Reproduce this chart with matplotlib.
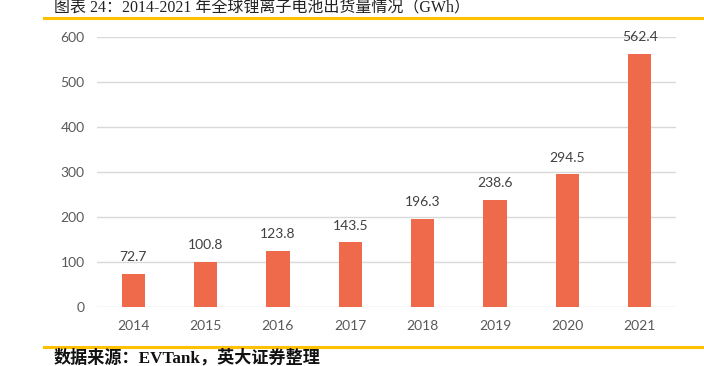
import matplotlib
matplotlib.use('Agg')
import numpy as np
import matplotlib.pyplot as plt
from matplotlib.lines import Line2D

years = ['2014', '2015', '2016', '2017', '2018', '2019', '2020', '2021']
shipments = [72.7, 100.8, 123.8, 143.5, 196.3, 238.6, 294.5, 562.4]
yticks = [0, 100, 200, 300, 400, 500, 600]

title = '图表 24：2014-2021 年全球锂离子电池出货量情况（GWh）'
source = '数据来源：EVTank，英大证券整理'

W, H = 704, 366
fig = plt.figure(figsize=(W / 100, H / 100), dpi=100)
ax = fig.add_axes([97 / W, (H - 307) / H, (676 - 97) / W, (307 - 37) / H])

x = np.arange(len(years))
ax.bar(x, shipments, width=0.32, color='#EE6A4B', zorder=3)
for xi, v in zip(x, shipments):
    ax.text(xi, v + 24, '%.1f' % v, ha='center', va='bottom',
            fontsize=10, color='#404040', family='Lato')

ax.set_xlim(-0.5, len(years) - 0.5)
ax.set_ylim(0, 600)
ax.set_yticks(yticks)
ax.set_xticks(x)
ax.set_xticklabels(years)
ax.grid(axis='y', color='#D9D9D9', linewidth=1, zorder=0)
ax.tick_params(length=0, labelsize=10, labelcolor='#595959', pad=9)
for lab in ax.get_xticklabels() + ax.get_yticklabels():
    lab.set_family('Lato')
for sp in ax.spines.values():
    sp.set_visible(False)

# title, gold rules, source line
fig.text(54 / W, 1 - 8.5 / H, title, ha='left', va='center', fontsize=11.5,
         family=['Liberation Serif', 'Noto Sans CJK SC'], color='#222222')
fig.add_artist(Line2D([44 / W, 1.0], [1 - 17.5 / H, 1 - 17.5 / H],
                      color='#FFC000', linewidth=2.2, transform=fig.transFigure))
fig.add_artist(Line2D([44 / W, 1.0], [1 - 347 / H, 1 - 347 / H],
                      color='#FFC000', linewidth=2.2, transform=fig.transFigure))
fig.text(54 / W, 1 - 358 / H, source, ha='left', va='center', fontsize=12.3,
         family=['Liberation Serif', 'Noto Sans CJK SC'], weight='bold', color='#111111')

fig.savefig('out.png', dpi=100)
